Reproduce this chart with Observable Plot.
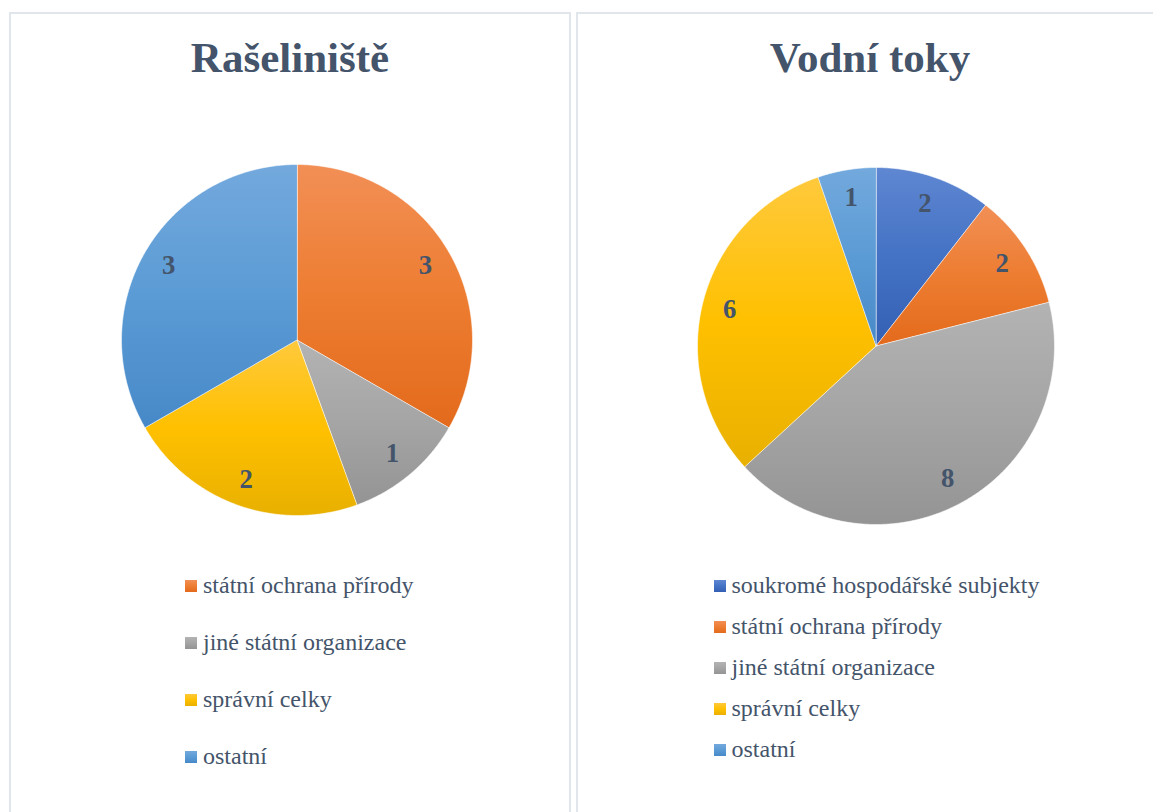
<!DOCTYPE html>
<html>
<head>
<meta charset="utf-8">
<script src="https://cdn.jsdelivr.net/npm/d3@7"></script>
<script src="https://cdn.jsdelivr.net/npm/@observablehq/plot@0.6"></script>
<style>
  html, body { margin: 0; padding: 0; background: #fff; }
  body { width: 1153px; height: 812px; overflow: hidden; position: relative;
         font-family: "Liberation Serif", "Times New Roman", serif; color: #44546A; }
  .panel { position: absolute; top: 12px; height: 840px; border: 2px solid #E1E6EC; box-sizing: border-box; background: #fff; }
  .title { position: absolute; font-weight: bold; font-size: 43px; line-height: 1; white-space: nowrap; transform: translateX(-50%); color: #44546A; }
  .pie { position: absolute; }
  .lg-text { position: absolute; font-size: 24px; line-height: 1; white-space: nowrap; color: #44546A; }
  .lg-sw { position: absolute; width: 12px; height: 12px; }
</style>
</head>
<body>
<svg width="0" height="0" style="position:absolute">
  <defs id="gradDefs"></defs>
</svg>
<div class="panel" style="left:9px; width:562px;"></div>
<div class="panel" style="left:576px; width:600px;"></div>
<script>
// ---- Data ----
const titleA = "Rašeliniště";
const catsA = ["státní ochrana přírody", "jiné státní organizace", "správní celky", "ostatní"];
const valsA = [3, 1, 2, 3];

const titleB = "Vodní toky";
const catsB = ["soukromé hospodářské subjekty", "státní ochrana přírody", "jiné státní organizace", "správní celky", "ostatní"];
const valsB = [2, 2, 8, 6, 1];

// colours per category: [top, middle, bottom] of gradient
const catNames = ["soukromé hospodářské subjekty", "státní ochrana přírody", "jiné státní organizace", "správní celky", "ostatní"];
const catColors = [
  ["#5F87D2", "#4472C4", "#3460B4"],
  ["#F28F56", "#ED7D31", "#E36A1C"],
  ["#B3B3B3", "#A5A5A5", "#949494"],
  ["#FFC93C", "#FFC000", "#E8B000"],
  ["#73A9DD", "#5B9BD5", "#4789C8"]
];

// ---- gradients ----
const defs = d3.select("#gradDefs");
catNames.forEach((c, i) => {
  const g = defs.append("linearGradient").attr("id", "g" + i)
    .attr("x1", 0).attr("y1", 0).attr("x2", 0).attr("y2", 1);
  g.append("stop").attr("offset", "0%").attr("stop-color", catColors[i][0]);
  g.append("stop").attr("offset", "50%").attr("stop-color", catColors[i][1]);
  g.append("stop").attr("offset", "100%").attr("stop-color", catColors[i][2]);
});

function slices(cats, vals) {
  const arcs = d3.pie().sort(null).value(d => d)(vals);
  return arcs.map((a, i) => {
    const n = Math.max(2, Math.ceil((a.endAngle - a.startAngle) / (Math.PI / 360)));
    const ring = [[0, 0]];
    for (let k = 0; k <= n; k++) {
      const t = a.startAngle + (a.endAngle - a.startAngle) * k / n;
      ring.push([Math.sin(t), -Math.cos(t)]);
    }
    ring.push([0, 0]);
    return {
      type: "Feature",
      properties: {cat: cats[i], value: vals[i], mid: (a.startAngle + a.endAngle) / 2},
      geometry: {type: "Polygon", coordinates: [ring]}
    };
  });
}

const unitBox = {type: "Polygon", coordinates: [[[-1, -1], [1, -1], [1, 1], [-1, 1], [-1, -1]]]};

function pie(cats, vals, cx, cy, r) {
  const m = 2;
  const feats = slices(cats, vals);
  const labelR = 0.845;
  const svg = Plot.plot({
    width: 2 * r + 2 * m,
    height: 2 * r + 2 * m,
    margin: m,
    projection: {type: "identity", domain: unitBox},
    color: {domain: catNames, range: catNames.map((c, i) => `url(#g${i})`)},
    style: {background: "transparent", overflow: "visible"},
    marks: [
      Plot.geo(feats, {fill: d => d.properties.cat, stroke: "#ffffff", strokeWidth: 0.8, strokeOpacity: 0.7}),
      Plot.text(feats, {
        x: d => labelR * Math.sin(d.properties.mid),
        y: d => -labelR * Math.cos(d.properties.mid),
        text: d => String(d.properties.value),
        fontSize: 26.7,
        fontWeight: "bold",
        fontFamily: "Liberation Serif, Times New Roman, serif",
        fill: "#44546A"
      })
    ]
  });
  svg.classList.add("pie");
  svg.style.left = (cx - r - m) + "px";
  svg.style.top = (cy - r - m) + "px";
  document.body.appendChild(svg);
}

function title(text, cx, baseline) {
  const el = document.createElement("div");
  el.className = "title";
  el.textContent = text;
  el.style.left = cx + "px";
  el.style.top = (baseline - 0.8375 * 43) + "px";
  document.body.appendChild(el);
}

function legend(cats, swX, textX, baseline0, step) {
  cats.forEach((c, i) => {
    const b = baseline0 + i * step;
    const ci = catNames.indexOf(c);
    const sw = document.createElement("div");
    sw.className = "lg-sw";
    sw.style.left = swX + "px";
    sw.style.top = (b - 13) + "px";
    sw.style.background = `linear-gradient(to bottom, ${catColors[ci][0]}, ${catColors[ci][1]} 50%, ${catColors[ci][2]})`;
    document.body.appendChild(sw);
    const t = document.createElement("div");
    t.className = "lg-text";
    t.textContent = c;
    t.style.left = textX + "px";
    t.style.top = (b - 0.8375 * 24) + "px";
    document.body.appendChild(t);
  });
}

title(titleA, 290, 72);
title(titleB, 870, 72);
pie(catsA, valsA, 296, 339.5, 175.5);
pie(catsB, valsB, 875.5, 345.5, 178.5);
legend(catsA, 185, 203, 593, 57);
legend(catsB, 714, 731.5, 593, 41);
</script>
</body>
</html>
